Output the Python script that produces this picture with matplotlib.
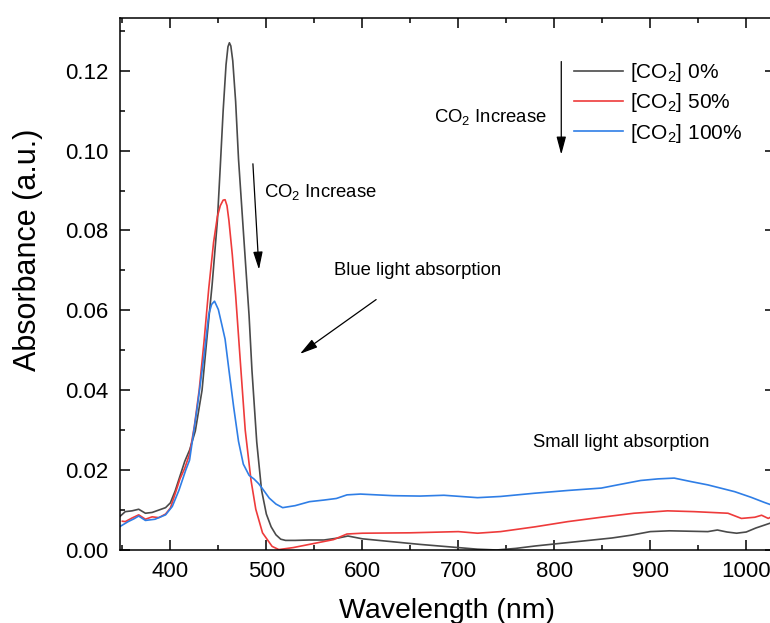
import numpy as np
import matplotlib
matplotlib.use("Agg")
import matplotlib.pyplot as plt

plt.rcParams['font.family'] = ['Liberation Sans', 'DejaVu Sans']
plt.rcParams['mathtext.fontset'] = 'custom'
plt.rcParams['mathtext.rm'] = 'Liberation Sans'
plt.rcParams['mathtext.it'] = 'Liberation Sans:italic'
plt.rcParams['mathtext.bf'] = 'Liberation Sans:bold'

# [CO2] 0%
wl_0 = [347, 353, 360, 367, 374, 381, 388, 395, 400, 405, 410, 415, 420, 426, 433,
        438, 443.5, 449, 452, 455, 458, 460, 461.5, 463, 465, 468, 471, 476, 482, 485,
        490, 495, 500, 505, 510, 515, 520, 530, 545, 560, 575, 585, 600, 630, 660,
        690, 720, 740, 760, 780, 800, 820, 840, 860, 880, 900, 920, 940, 960, 970,
        980, 990, 1000, 1010, 1026]
abs_0 = [0.0083, 0.0096, 0.0098, 0.0102, 0.0092, 0.0094, 0.0100, 0.0106, 0.0118, 0.0148,
         0.0185, 0.0222, 0.0250, 0.0298, 0.0400, 0.0528, 0.0664, 0.0825, 0.0960, 0.1100,
         0.1215, 0.1260, 0.1270, 0.1262, 0.1225, 0.1123, 0.0979, 0.0800, 0.0587, 0.0450,
         0.0270, 0.0150, 0.0090, 0.0058, 0.0038, 0.0027, 0.0024, 0.0024, 0.0025, 0.0025,
         0.0030, 0.0035, 0.0028, 0.0021, 0.0014, 0.0008, 0.0002, 0.0000, 0.0004, 0.0010,
         0.0015, 0.0020, 0.0025, 0.0030, 0.0037, 0.0046, 0.0048, 0.0047, 0.0046, 0.0050,
         0.0045, 0.0042, 0.0045, 0.0055, 0.0068]

# [CO2] 50%
wl_50 = [350, 353, 360, 367, 374, 381, 388, 395, 400, 405, 410, 415, 420, 425, 430,
         435, 440, 445, 449, 452, 455, 457, 459, 461, 464.5, 468, 473, 478, 484, 489,
         496, 506, 513, 528, 549, 570, 584, 600, 650, 700, 720, 744, 780, 814, 849,
         883, 918, 946, 981, 995, 1009, 1016, 1023, 1026]
abs_50 = [0.0072, 0.0071, 0.0080, 0.0088, 0.0077, 0.0083, 0.0081, 0.0090, 0.0105, 0.0141,
          0.0178, 0.0205, 0.0240, 0.0310, 0.0400, 0.0520, 0.0655, 0.0770, 0.0835, 0.0862,
          0.0876, 0.0877, 0.0862, 0.0825, 0.0740, 0.0638, 0.0468, 0.0300, 0.0175, 0.0102,
          0.0043, 0.0009, 0.0001, 0.0006, 0.0016, 0.0026, 0.0040, 0.0042, 0.0043, 0.0046,
          0.0042, 0.0046, 0.0058, 0.0071, 0.0082, 0.0092, 0.0098, 0.0096, 0.0092, 0.0079,
          0.0082, 0.0087, 0.0079, 0.0083]

# [CO2] 100%
wl_100 = [347, 356, 362, 367, 374, 384, 395, 402, 409, 416, 420, 428, 435, 440, 443,
          446, 450, 454, 457, 461, 466, 471, 476, 482, 487, 492, 497, 503, 510, 517,
          530, 545, 560, 573, 584, 598, 632, 660, 685, 720, 744, 779, 814, 849, 866,
          890, 908, 925, 943, 960, 988, 1005, 1019, 1026]
abs_100 = [0.0058, 0.0071, 0.0078, 0.0085, 0.0074, 0.0077, 0.0088, 0.0109, 0.0150, 0.0200,
           0.0225, 0.0357, 0.0485, 0.0590, 0.0615, 0.0623, 0.0602, 0.0560, 0.0528, 0.0451,
           0.0357, 0.0272, 0.0215, 0.0187, 0.0178, 0.0166, 0.0150, 0.0130, 0.0115, 0.0106,
           0.0111, 0.0121, 0.0125, 0.0129, 0.0138, 0.0140, 0.0136, 0.0135, 0.0137, 0.0131,
           0.0134, 0.0142, 0.0149, 0.0155, 0.0163, 0.0174, 0.0178, 0.0180, 0.0171, 0.0163,
           0.0146, 0.0132, 0.0119, 0.0113]

labels = ['[CO$_2$] 0%', '[CO$_2$] 50%', '[CO$_2$] 100%']
colors = ['#4a4a4a', '#ee3b3b', '#2f7ee6']

fig = plt.figure(figsize=(7.7, 6.23), dpi=100)
ax = fig.add_axes([0.1552, 0.1172, 0.8513, 0.8539])

for wl, a, lab, c in zip([wl_0, wl_50, wl_100], [abs_0, abs_50, abs_100], labels, colors):
    ax.plot(wl, a, color=c, lw=1.2, label=lab)

ax.set_xlim(347, 1030)
ax.set_ylim(0, 0.1332)
ax.set_xticks(np.arange(400, 1001, 100))
ax.set_xticks(np.arange(350, 1030, 50), minor=True)
ax.set_yticks(np.arange(0, 0.121, 0.02))
ax.set_yticks(np.arange(0.01, 0.133, 0.02), minor=True)
ax.yaxis.set_major_formatter(matplotlib.ticker.FormatStrFormatter('%.2f'))
ax.tick_params(which='both', direction='in', top=True, right=True, labelsize=16, width=1.1)
ax.tick_params(which='major', length=7, pad=8)
ax.tick_params(which='minor', length=3.6)
for s in ax.spines.values():
    s.set_linewidth(1.1)

ax.set_xlabel('Wavelength (nm)', fontsize=20.5)
ax.set_ylabel('Absorbance (a.u.)', fontsize=22)
ax.xaxis.set_label_coords(0.5, -0.091)
ax.yaxis.set_label_coords(-0.117, 0.564)

ax.legend(loc='upper left', bbox_to_anchor=(0.6934, 0.919), frameon=False,
          fontsize=15, handlelength=2.35, handletextpad=0.35, labelspacing=0.35,
          borderaxespad=0, borderpad=0)

arrow = dict(arrowstyle='-|>,head_length=0.6,head_width=0.16', lw=0.9, color='black',
             mutation_scale=18, shrinkA=0, shrinkB=0)
ax.annotate('', xy=(807.3, 0.0990), xytext=(807.3, 0.1223), arrowprops=arrow)
ax.text(675.2, 0.1083, 'CO$_2$ Increase', fontsize=13.3, ha='left', va='center')
ax.annotate('', xy=(492.3, 0.0702), xytext=(486.0, 0.0967), arrowprops=arrow)
ax.text(497.5, 0.0897, 'CO$_2$ Increase', fontsize=13.3, ha='left', va='center')
ax.annotate('', xy=(535.0, 0.0491), xytext=(614.4, 0.0627), arrowprops=arrow)
ax.text(570.6, 0.0700, 'Blue light absorption', fontsize=13.3, ha='left', va='center')
ax.text(777.5, 0.0269, 'Small light absorption', fontsize=13.3, ha='left', va='center')

fig.savefig('out.png', dpi=100)
